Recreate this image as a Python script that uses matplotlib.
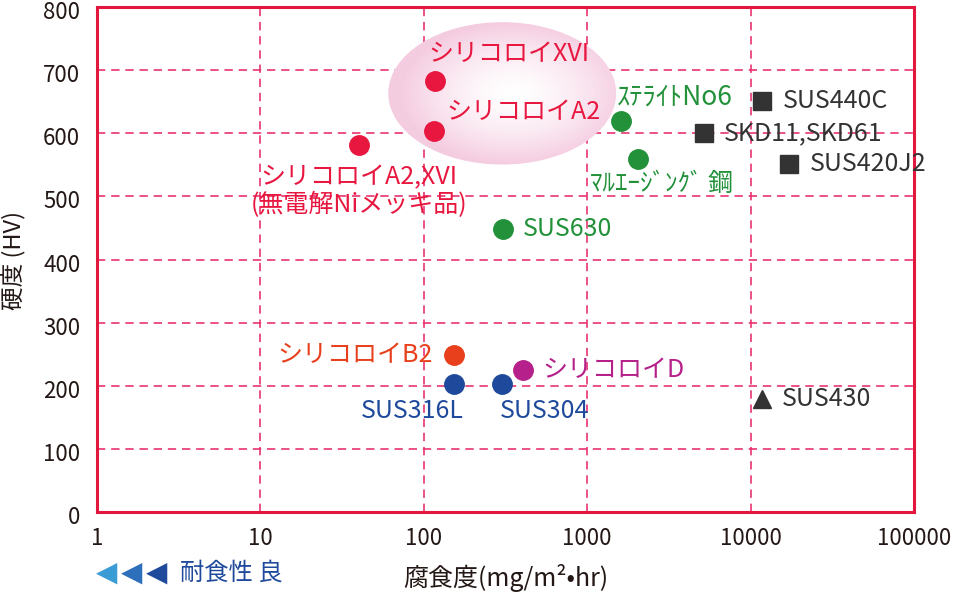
import matplotlib
matplotlib.use("Agg")
import matplotlib.pyplot as plt
import matplotlib.transforms as mtransforms
import numpy as np
from matplotlib.patches import Ellipse

plt.rcParams["font.family"] = ["Noto Sans CJK JP", "DejaVu Sans"]

# material data: corrosion rate (mg/m2/hr), hardness (HV)
names = ["シリコロイXVI", "シリコロイA2", "シリコロイA2,XVI\n(無電解Niメッキ品)",
         "ｽﾃﾗｲﾄNo6", "ﾏﾙｴｰｼﾞﾝｸﾞ 鋼", "SUS630",
         "SUS440C", "SKD11,SKD61", "SUS420J2",
         "シリコロイB2", "SUS316L", "SUS304", "シリコロイD", "SUS430"]
corrosion = [117, 116, 40, 1620, 2060, 305, 11700, 5150, 17200, 152, 152, 300, 405, 11800]
hardness = [683, 603, 582, 620, 559, 448, 651, 600, 552, 248, 202, 202, 225, 179]
markers = ["o", "o", "o", "o", "o", "o", "s", "s", "s", "o", "o", "o", "o", "^"]
colors = ["#e8173f", "#e8173f", "#e8173f", "#22913a", "#22913a", "#22913a",
          "#333333", "#333333", "#333333", "#e8401c", "#1f4a9c", "#1f4a9c",
          "#b5208a", "#333333"]
sizes = [18, 18, 18, 19, 18, 18, 18, 18, 18, 18, 18, 18, 18, 18]
# label offsets in points and alignment
offsets = [(-5, 19), (9, 14), (0, -14), (-3, 17), (-35, -18), (14, 0),
           (15, 0), (15, 0), (15, 0), (-15, 0), (-30, -19), (31, -19), (14, 0), (14, 0)]
aligns = [("left", "center"), ("left", "center"), ("center", "top"), ("left", "center"),
          ("left", "center"), ("left", "center"), ("left", "center"), ("left", "center"),
          ("left", "center"), ("right", "center"), ("center", "center"), ("center", "center"),
          ("left", "center"), ("left", "center")]

xticks = [1, 10, 100, 1000, 10000, 100000]
yticks = [0, 100, 200, 300, 400, 500, 600, 700, 800]

fig = plt.figure(figsize=(9.56, 5.94), dpi=100)
ax = fig.add_axes([97 / 956, 1 - 512 / 594, 817 / 956, 505 / 594])
ax.set_xscale("log")
ax.set_xlim(1, 100000)
ax.set_ylim(0, 800)
ax.set_xticks(xticks)
ax.set_xticklabels([str(t) for t in xticks])
ax.set_yticks(yticks)
ax.minorticks_off()
ax.tick_params(length=0, labelsize=16, colors="#231815")
ax.tick_params(axis="x", pad=11)
ax.tick_params(axis="y", pad=12)
# y tick labels sit a little below their grid lines in the original
shift = mtransforms.ScaledTranslation(0, -3 / 100, fig.dpi_scale_trans)
for lab in ax.get_yticklabels():
    lab.set_transform(lab.get_transform() + shift)
for s in ax.spines.values():
    s.set_color("#e2173e")
    s.set_linewidth(2.2)
ax.grid(True, color="#e8336f", linestyle=(0, (5, 3.5)), linewidth=1.2)
ax.set_axisbelow(True)

# highlighted ellipse with radial gradient
ell = Ellipse((0.496, 0.829), 0.279, 0.282, transform=ax.transAxes,
              facecolor="none", edgecolor="none")
ax.add_patch(ell)
gx, gy = np.meshgrid(np.linspace(-1, 1, 200), np.linspace(-1, 1, 200))
r = np.clip(np.sqrt((gx - 0.1) ** 2 + gy ** 2), 0, 1)
c0 = np.array([1.0, 1.0, 1.0])
c1 = np.array([0.96, 0.80, 0.88])
img = c0 + (c1 - c0) * r[..., None] ** 1.5
im = ax.imshow(img, extent=[0.496 - 0.1395, 0.496 + 0.1395, 0.829 - 0.141, 0.829 + 0.141],
               transform=ax.transAxes, aspect="auto", zorder=1.5, interpolation="bilinear")
im.set_clip_path(ell)

for n, x, y, m, c, off, al, fs in zip(names, corrosion, hardness, markers, colors,
                                      offsets, aligns, sizes):
    ms = 14 if m == "o" else 13
    ax.plot(x, y, marker=m, color=c, markersize=ms, linestyle="none", zorder=3)
    ax.annotate(n, (x, y), xytext=off, textcoords="offset points", ha=al[0], va=al[1],
                color=c, fontsize=fs, zorder=4, linespacing=1.1)

fig.text(14 / 956, 1 - 260 / 594, "硬度 (HV)", rotation=90, ha="center", va="center",
         fontsize=17, color="#231815")
fig.text(506 / 956, 1 - 578 / 594, "腐食度(mg/m²•hr)", ha="center", va="center",
         fontsize=18, color="#231815")
for i, c in enumerate(["#3a9bd5", "#2d6fba", "#1f4a9c"]):
    fig.text((107 + i * 25) / 956, 1 - 573 / 594, "◀", ha="center", va="center",
             fontsize=20, color=c, family="DejaVu Sans")
fig.text(180 / 956, 1 - 573 / 594, "耐食性 良", ha="left", va="center",
         fontsize=17.5, color="#1f4a9c")

fig.savefig("out.png", dpi=100)
